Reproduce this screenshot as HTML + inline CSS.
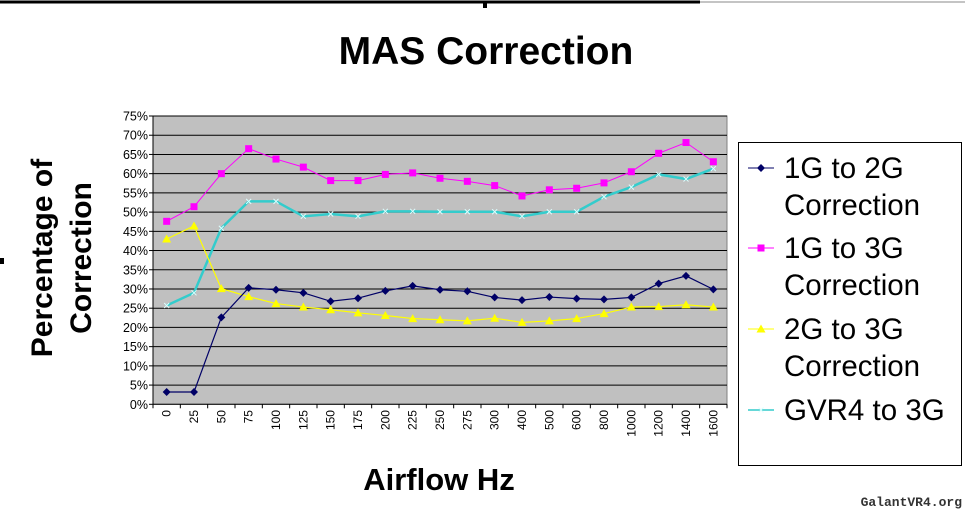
<!DOCTYPE html>
<html><head><meta charset="utf-8"><style>
body{margin:0;background:#fff;width:965px;height:512px;overflow:hidden;font-family:"Liberation Sans",Arial,sans-serif}
</style></head><body>
<svg id="chart" width="965" height="512" xmlns="http://www.w3.org/2000/svg" font-family="Liberation Sans, Arial, sans-serif">
<line x1="0" y1="2" x2="700" y2="2" stroke="#000" stroke-width="3"/>
<line x1="700" y1="2" x2="965" y2="2" stroke="#888" stroke-width="1"/>
<rect x="483" y="2" width="4" height="6" fill="#000"/>
<rect x="0" y="258" width="4" height="6" fill="#000"/>
<text x="486" y="64" text-anchor="middle" font-size="39" font-weight="bold">MAS Correction</text>
<g font-size="30" font-weight="bold" text-anchor="middle">
<text transform="translate(52,258) rotate(-90)">Percentage of</text>
<text transform="translate(91,258) rotate(-90)">Correction</text>
</g>
<text x="439" y="490" text-anchor="middle" font-size="31" font-weight="bold">Airflow Hz</text>
<rect x="153" y="116" width="574" height="288.3" fill="#c0c0c0" stroke="#808080"/>
<g id="grid"></g><g id="axes"></g><g id="series"></g>
<rect x="738.5" y="142.5" width="223" height="323" fill="#fff" stroke="#000"/>
<g id="legend"></g>
<text x="962" y="506" text-anchor="end" font-size="13" font-family="Liberation Mono, monospace" font-weight="bold" fill="#333">GalantVR4.org</text>
</svg>
<script>
const categories=["0","25","50","75","100","125","150","175","200","225","250","275","300","400","500","600","800","1000","1200","1400","1600"];
const yTicks=[0,5,10,15,20,25,30,35,40,45,50,55,60,65,70,75];
const s1G2G=[3.2,3.2,22.6,30.3,29.8,29,26.8,27.6,29.5,30.8,29.8,29.4,27.8,27.1,27.9,27.5,27.3,27.8,31.4,33.4,29.9];
const s1G3G=[47.6,51.4,60,66.5,63.8,61.7,58.2,58.2,59.8,60.2,58.8,58,56.9,54.2,55.8,56.2,57.6,60.5,65.3,68.1,63.1];
const s2G3G=[43,46.4,30.1,28,26.2,25.3,24.6,23.8,23.1,22.3,22,21.7,22.4,21.3,21.7,22.3,23.6,25.3,25.4,25.9,25.3];
const sGVR4=[25.7,29,45.8,52.8,52.8,48.9,49.5,48.9,50.2,50.2,50.1,50.1,50.1,48.9,50.1,50.1,54,56.5,59.8,58.6,61.3];
const seriesNames=[["1G to 2G","Correction"],["1G to 3G","Correction"],["2G to 3G","Correction"],["GVR4 to 3G"]];
const NS="http://www.w3.org/2000/svg";
const L=153,R=727,T=116,B=404.3,YMAX=75;
const step=(R-L)/categories.length;
const xs=i=>L+step*(i+0.5);
const ys=v=>B-(v/YMAX)*(B-T);
function mk(t,a,p){const e=document.createElementNS(NS,t);for(const k in a)e.setAttribute(k,a[k]);p.appendChild(e);return e;}
const grid=document.getElementById('grid'),axes=document.getElementById('axes'),ser=document.getElementById('series'),leg=document.getElementById('legend');
yTicks.forEach(v=>{
 if(v>0){const g=mk('line',{x1:L,x2:R,y1:ys(v),y2:ys(v),stroke:'#000','stroke-width':1},grid);
 
 }
 const t=mk('text',{x:148,y:ys(v)+4.5,'text-anchor':'end','font-size':12.5},axes);t.textContent=v+'%';
 
 
 mk('line',{x1:L-4,x2:L,y1:ys(v),y2:ys(v),stroke:'#000'},axes);
});
mk('line',{x1:L,x2:L,y1:T,y2:B,stroke:'#000'},axes);
mk('line',{x1:L,x2:R,y1:B,y2:B,stroke:'#000'},axes);
categories.forEach((c,i)=>{
 mk('line',{x1:L+step*i,x2:L+step*i,y1:B,y2:B+4,stroke:'#000'},axes);
 const x=xs(i)+4;
 const t=mk('text',{x:x,y:410,transform:`rotate(-90 ${x} 410)`,'text-anchor':'end','font-size':12},axes);t.textContent=c;
 
 
});
mk('line',{x1:R,x2:R,y1:B,y2:B+4,stroke:'#000'},axes);
function marker(kind,x,y,col,p){
 if(kind==='d')return mk('path',{d:`M${x} ${y-4}L${x+4} ${y}L${x} ${y+4}L${x-4} ${y}Z`,fill:col},p);
 if(kind==='s')return mk('rect',{x:x-3.5,y:y-3.5,width:7,height:7,fill:col},p);
 if(kind==='t')return mk('path',{d:`M${x} ${y-4.5}L${x+4.5} ${y+3.5}L${x-4.5} ${y+3.5}Z`,fill:col},p);
 return mk('path',{d:`M${x-2.5} ${y-2.5}L${x+2.5} ${y+2.5}M${x+2.5} ${y-2.5}L${x-2.5} ${y+2.5}`,stroke:'#dff','stroke-width':1},p);
}
const defs=[[s1G2G,'#000066','d',1.2,'series-1g-to-2g'],[s1G3G,'#ff00ff','s',1,'series-1g-to-3g'],[s2G3G,'#ffff00','t',1.2,'series-2g-to-3g'],[sGVR4,'#33cccc','x',2.5,'series-gvr4-to-3g']];
const order=[3,2,1,0];
order.forEach(k=>{
 const [d,col,m,w,name]=defs[k];
 const g=mk('g',{},ser);
 
 
 mk('polyline',{points:d.map((v,i)=>xs(i)+','+ys(v)).join(' '),fill:'none',stroke:col,'stroke-width':w},g);
 d.forEach((v,i)=>{const e=marker(m,xs(i),ys(v),col,g);
 
 });
});
const legY=[168,248,329,410];
defs.forEach(([d,col,m,w,name],k)=>{
 const g=mk('g',{},leg);
 
 
 const y=legY[k];
 mk('line',{x1:748,x2:774,y1:y,y2:y,stroke:col,'stroke-width':k===3?1.5:1},g);
 marker(m,761,y,col,g);
 seriesNames[k].forEach((s,j)=>{const t=mk('text',{x:784,y:y+10+j*37,'font-size':29.5},g);t.textContent=s;});
});
</script>
</body></html>
